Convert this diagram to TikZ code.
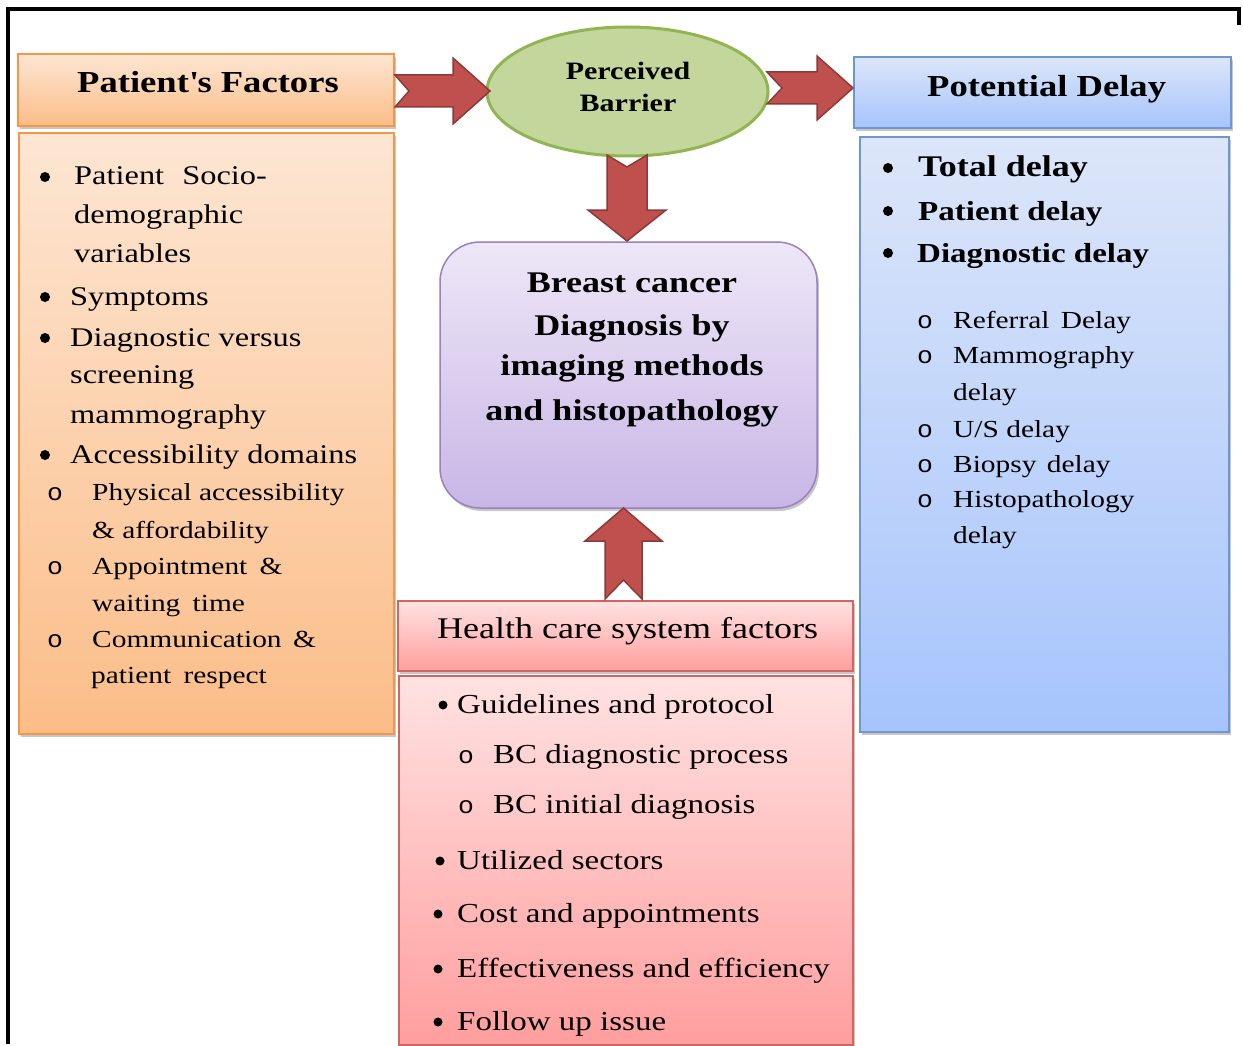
\documentclass[tikz,border=0pt]{standalone}
\usepackage{fontspec}
\setmainfont{Liberation Serif}[FakeStretch=1.2]
\setmonofont{Liberation Mono}[FakeStretch=1.1]
\usetikzlibrary{shapes.geometric,shadows}
\newcommand{\myfs}[1]{\fontsize{#1}{#1}\selectfont}
\definecolor{orbd}{HTML}{F79646}
\definecolor{ortop}{HTML}{FDE6D3}
\definecolor{orbot}{HTML}{FBBD88}
\definecolor{blbd}{HTML}{7096D0}
\definecolor{bltop}{HTML}{DCE6F9}
\definecolor{blbot}{HTML}{A6C4FC}
\definecolor{pubd}{HTML}{9A82BE}
\definecolor{putop}{HTML}{EEE7F7}
\definecolor{pubot}{HTML}{C8B6E6}
\definecolor{rdbd}{HTML}{D06565}
\definecolor{rdtop}{HTML}{FFE2E2}
\definecolor{rdbot}{HTML}{FF9E9E}
\definecolor{grfill}{HTML}{C3D69B}
\definecolor{grbd}{HTML}{92B553}
\definecolor{arfill}{HTML}{C0504D}
\definecolor{arbd}{HTML}{8C3A38}
\tikzset{
  panel/.style={rectangle, inner sep=0pt, outer sep=0pt, anchor=north west, line width=1.5pt,
    drop shadow={shadow xshift=2pt, shadow yshift=-3pt, fill=black, opacity=0.22}},
  orpanel/.style={panel, draw=orbd, top color=ortop, bottom color=orbot},
  blpanel/.style={panel, draw=blbd, top color=bltop, bottom color=blbot},
  rdpanel/.style={panel, draw=rdbd, top color=rdtop, bottom color=rdbot},
  pupanel/.style={panel, draw=pubd, top color=putop, bottom color=pubot, rounded corners=40pt},
  blockarrow/.style={fill=arfill, draw=arbd, line width=1.5pt, line join=miter},
  hd/.style={anchor=base west, inner sep=0pt, font=\myfs{30.5}\bfseries},
  ctr/.style={anchor=base, inner sep=0pt, font=\myfs{30}\bfseries},
  big/.style={anchor=base west, inner sep=0pt, font=\myfs{27}},
  mid/.style={anchor=base west, inner sep=0pt, font=\myfs{27.5}},
  sml/.style={anchor=base west, inner sep=0pt, font=\myfs{24.5}},
  dotb/.style={circle, fill=black, inner sep=0pt, minimum size=10pt},
  ringb/.style={anchor=base, inner sep=0pt, font=\myfs{24}\ttfamily},
}
\begin{document}
\begin{tikzpicture}[x=1pt,y=-1pt]
\useasboundingbox (0,0) rectangle (1243,1046);
\fill[white] (0,0) rectangle (1243,1046);

% frame
\draw[line width=4pt, line join=miter] (8,1044) -- (8,9) -- (1239,9) -- (1239,25);

% panels
\node[orpanel, minimum width=376pt, minimum height=72pt] (pfh) at (18,54) {};
\node[orpanel, minimum width=375pt, minimum height=601pt] (pfb) at (19,133) {};
\node[blpanel, minimum width=377pt, minimum height=71pt] (pdh) at (854,57) {};
\node[blpanel, minimum width=369pt, minimum height=595pt] (pdb) at (860,137) {};
\node[pupanel, minimum width=377pt, minimum height=266pt] (bcd) at (440,242) {};
\node[rdpanel, minimum width=455pt, minimum height=70pt] (hch) at (398,601) {};
\node[rdpanel, minimum width=454pt, minimum height=369pt] (hcb) at (399,676) {};

% ellipse
\node[ellipse, draw=grbd, fill=grfill, line width=3pt, inner sep=0pt,
      minimum width=281pt, minimum height=129pt] (pb) at (627.5,91.5) {};

% block arrows
\draw[blockarrow] (395,75) -- (453,75) -- (453,58) -- (490,91) -- (453,124) -- (453,107) -- (395,107) -- (409,91) -- cycle;
\draw[blockarrow] (767,72) -- (817,72) -- (817,56) -- (853,88) -- (817,120) -- (817,104) -- (767,104) -- (782,88) -- cycle;
\draw[blockarrow] (607,155) -- (627,167) -- (647,155) -- (647,210) -- (666,210) -- (627,241) -- (588,210) -- (607,210) -- cycle;
\draw[blockarrow] (605,599) -- (623.5,580) -- (642,599) -- (642,541) -- (662,541) -- (623.5,508) -- (585,541) -- (605,541) -- cycle;

% headers
\node[hd] (pfht) at (77,93) {Patient\textquotesingle s Factors};
\node[hd] (pdht) at (927,97) {Potential Delay};
\node[anchor=base, inner sep=0pt, font=\myfs{25}\bfseries] (pbt1) at (628,80) {Perceived};
\node[anchor=base, inner sep=0pt, font=\myfs{25}\bfseries] (pbt2) at (628,112) {Barrier};
\node[ctr] (bc1) at (632,292) {Breast cancer};
\node[ctr] (bc2) at (632,335) {Diagnosis by};
\node[ctr] (bc3) at (632,375) {imaging methods};
\node[ctr] (bc4) at (632,420) {and histopathology};
\node[anchor=base west, inner sep=0pt, font=\myfs{30}] (hcht) at (437,638) {Health care system factors};

% left list
\node[dotb] (lb1) at (45,177) {};
\node[dotb] (lb2) at (45,297) {};
\node[dotb] (lb3) at (45,338) {};
\node[dotb] (lb4) at (45,455) {};
\node[big] (l1) at (74,185) {Patient\hspace{10pt} Socio-};
\node[big] (l2) at (74,223) {demographic};
\node[big] (l3) at (74,262) {variables};
\node[big] (l4) at (70,305) {Symptoms};
\node[big] (l5) at (70,346) {Diagnostic versus};
\node[big] (l6) at (70,383) {screening};
\node[big] (l7) at (70,423) {mammography};
\node[big] (l8) at (70,463) {Accessibility domains};
\node[ringb] (lo1) at (55,500) {o};
\node[ringb] (lo2) at (55,574) {o};
\node[ringb] (lo3) at (55,647) {o};
\node[sml] (l9) at (92,500) {Physical accessibility};
\node[sml] (l10) at (92,538) {\& affordability};
\node[sml] (l11) at (92,574) {Appointment\hspace{5pt} \&};
\node[sml] (l12) at (92,611) {waiting\hspace{5pt} time};
\node[sml] (l13) at (92,647) {Communication\hspace{4pt} \&};
\node[sml] (l14) at (91,683) {patient\hspace{5pt} respect};

% right list
\node[dotb] (rb1) at (888,168) {};
\node[dotb] (rb2) at (888,211) {};
\node[dotb] (rb3) at (888,253) {};
\node[anchor=base west, inner sep=0pt, font=\myfs{30}\bfseries] (r1) at (918,177) {Total delay};
\node[anchor=base west, inner sep=0pt, font=\myfs{27.5}\bfseries] (r2) at (918,220) {Patient delay};
\node[anchor=base west, inner sep=0pt, font=\myfs{27.5}\bfseries] (r3) at (917,262) {Diagnostic delay};
\node[ringb] (ro1) at (925,328) {o};
\node[ringb] (ro2) at (925,363) {o};
\node[ringb] (ro3) at (925,437) {o};
\node[ringb] (ro4) at (925,472) {o};
\node[ringb] (ro5) at (925,507) {o};
\node[sml] (r4) at (953,328) {Referral\hspace{4pt} Delay};
\node[sml] (r5) at (953,363) {Mammography};
\node[sml] (r6) at (953,400) {delay};
\node[sml] (r7) at (953,437) {U/S delay};
\node[sml] (r8) at (953,472) {Biopsy\hspace{3pt} delay};
\node[sml] (r9) at (953,507) {Histopathology};
\node[sml] (r10) at (953,543) {delay};

% bottom list
\node[dotb, minimum size=9pt] (hb1) at (443,705) {};
\node[dotb, minimum size=9pt] (hb2) at (440,861) {};
\node[dotb, minimum size=9pt] (hb3) at (438,914) {};
\node[dotb, minimum size=9pt] (hb4) at (438,969) {};
\node[dotb, minimum size=9pt] (hb5) at (438,1022) {};
\node[mid] (h1) at (457,713) {Guidelines and protocol};
\node[ringb] (ho1) at (466,763) {o};
\node[ringb] (ho2) at (466,813) {o};
\node[mid] (h2) at (493,763) {BC diagnostic process};
\node[mid] (h3) at (493,813) {BC initial diagnosis};
\node[mid] (h4) at (457,869) {Utilized sectors};
\node[mid] (h5) at (457,922) {Cost and appointments};
\node[mid] (h6) at (457,977) {Effectiveness and efficiency};
\node[mid] (h7) at (457,1030) {Follow up issue};
\end{tikzpicture}
\end{document}
